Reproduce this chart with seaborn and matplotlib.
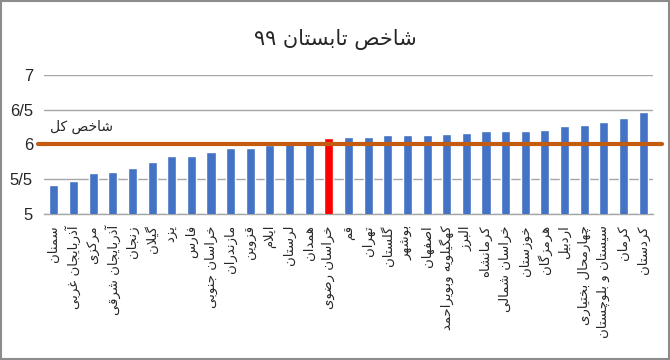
import matplotlib
matplotlib.use("Agg")
import matplotlib.pyplot as plt
import seaborn as sns
from matplotlib.patches import Rectangle

# ---------------- data ----------------
title = "شاخص تابستان ۹۹"
overall_label = "شاخص کل"
overall_value = 6.0
highlight = "خراسان رضوی"
provinces = [
    "سمنان", "آذربایجان غربی", "مرکزی", "آذربایجان شرقی", "زنجان", "گیلان",
    "یزد", "فارس", "خراسان جنوبی", "مازندران", "قزوین", "ایلام", "لرستان",
    "همدان", "خراسان رضوی", "قم", "تهران", "گلستان", "بوشهر", "اصفهان",
    "کهگیلویه وبویراحمد", "البرز", "کرمانشاه", "خراسان شمالی", "خوزستان",
    "هرمزگان", "اردبیل", "چهارمحال بختیاری", "سیستان و بلوچستان", "کرمان",
    "کردستان",
]
values = [
    5.42, 5.48, 5.59, 5.60, 5.66, 5.75, 5.83, 5.83, 5.89, 5.95, 5.95, 5.99,
    6.05, 6.05, 6.09, 6.11, 6.11, 6.14, 6.14, 6.14, 6.15, 6.17, 6.19, 6.19,
    6.19, 6.21, 6.27, 6.28, 6.32, 6.38, 6.47,
]
yticks = [5, 5.5, 6, 6.5, 7]
ytick_labels = ["5", "5/5", "6", "6/5", "7"]

# ------------- minimal Persian shaping -------------
FORMS = {
    "\u0627": ("\uFE8D", "\uFE8E", None, None),
    "\u0622": ("\uFE81", "\uFE82", None, None),
    "\u0628": ("\uFE8F", "\uFE90", "\uFE91", "\uFE92"),
    "\u067E": ("\uFB56", "\uFB57", "\uFB58", "\uFB59"),
    "\u062A": ("\uFE95", "\uFE96", "\uFE97", "\uFE98"),
    "\u062B": ("\uFE99", "\uFE9A", "\uFE9B", "\uFE9C"),
    "\u062C": ("\uFE9D", "\uFE9E", "\uFE9F", "\uFEA0"),
    "\u0686": ("\uFB7A", "\uFB7B", "\uFB7C", "\uFB7D"),
    "\u062D": ("\uFEA1", "\uFEA2", "\uFEA3", "\uFEA4"),
    "\u062E": ("\uFEA5", "\uFEA6", "\uFEA7", "\uFEA8"),
    "\u062F": ("\uFEA9", "\uFEAA", None, None),
    "\u0630": ("\uFEAB", "\uFEAC", None, None),
    "\u0631": ("\uFEAD", "\uFEAE", None, None),
    "\u0632": ("\uFEAF", "\uFEB0", None, None),
    "\u0698": ("\uFB8A", "\uFB8B", None, None),
    "\u0633": ("\uFEB1", "\uFEB2", "\uFEB3", "\uFEB4"),
    "\u0634": ("\uFEB5", "\uFEB6", "\uFEB7", "\uFEB8"),
    "\u0635": ("\uFEB9", "\uFEBA", "\uFEBB", "\uFEBC"),
    "\u0636": ("\uFEBD", "\uFEBE", "\uFEBF", "\uFEC0"),
    "\u0637": ("\uFEC1", "\uFEC2", "\uFEC3", "\uFEC4"),
    "\u0638": ("\uFEC5", "\uFEC6", "\uFEC7", "\uFEC8"),
    "\u0639": ("\uFEC9", "\uFECA", "\uFECB", "\uFECC"),
    "\u063A": ("\uFECD", "\uFECE", "\uFECF", "\uFED0"),
    "\u0641": ("\uFED1", "\uFED2", "\uFED3", "\uFED4"),
    "\u0642": ("\uFED5", "\uFED6", "\uFED7", "\uFED8"),
    "\u06A9": ("\uFB8E", "\uFB8F", "\uFB90", "\uFB91"),
    "\u06AF": ("\uFB92", "\uFB93", "\uFB94", "\uFB95"),
    "\u0644": ("\uFEDD", "\uFEDE", "\uFEDF", "\uFEE0"),
    "\u0645": ("\uFEE1", "\uFEE2", "\uFEE3", "\uFEE4"),
    "\u0646": ("\uFEE5", "\uFEE6", "\uFEE7", "\uFEE8"),
    "\u0647": ("\uFEE9", "\uFEEA", "\uFEEB", "\uFEEC"),
    "\u0648": ("\uFEED", "\uFEEE", None, None),
    "\u06CC": ("\uFBFC", "\uFBFD", "\uFBFE", "\uFBFF"),
}
LAM_ALEF = {"\u0627": ("\uFEFB", "\uFEFC"), "\u0622": ("\uFEF5", "\uFEF6")}


def shape(text):
    out = []
    chars = list(text)
    n = len(chars)
    i = 0
    while i < n:
        c = chars[i]
        if c not in FORMS:
            if c != "\u200c":
                out.append(c)
            i += 1
            continue
        prev = chars[i - 1] if i > 0 else None
        conn_prev = prev in FORMS and FORMS[prev][2] is not None
        if c == "\u0644" and i + 1 < n and chars[i + 1] in LAM_ALEF:
            iso, fin = LAM_ALEF[chars[i + 1]]
            out.append(fin if conn_prev else iso)
            i += 2
            continue
        nxt = chars[i + 1] if i + 1 < n else None
        conn_next = FORMS[c][2] is not None and nxt in FORMS
        iso, fin, ini, med = FORMS[c]
        if conn_prev and conn_next:
            out.append(med)
        elif conn_prev:
            out.append(fin)
        elif conn_next:
            out.append(ini)
        else:
            out.append(iso)
        i += 1
    vis = out[::-1]
    res, run = [], []
    for ch in vis:
        if ch.isdigit():
            run.append(ch)
        else:
            if run:
                res.extend(run[::-1]); run = []
            res.append(ch)
    if run:
        res.extend(run[::-1])
    return "".join(res)


# ---------------- plot ----------------
sns.set_theme(style="white")
plt.rcParams["font.family"] = ["DejaVu Sans"]

fig = plt.figure(figsize=(6.7, 3.6), dpi=100)
ax = fig.add_axes([0.0657, 0.4056, 0.9089, 0.3861])

colors = ["#FF0000" if p == highlight else "#4472C4" for p in provinces]
sns.barplot(x=provinces, y=values, hue=provinces, palette=colors,
            legend=False, width=0.46, ax=ax, saturation=1, zorder=3)

ax.set_ylim(5, 7)
ax.set_xlim(-0.5, len(provinces) - 0.5)
ax.set_yticks(yticks)
ax.set_yticklabels(ytick_labels, family=["Liberation Sans Narrow", "Liberation Sans"],
                   fontsize=12)
ax.yaxis.grid(True, color="#A6A6A6", linewidth=1.0, zorder=0)
ax.tick_params(axis="y", length=5, color="#A6A6A6", width=1, pad=3)
ax.set_axisbelow(True)

ax.set_xticks(range(len(provinces)))
ax.set_xticklabels([shape(p) for p in provinces], rotation=90,
                   ha="center", va="top", fontsize=9.5)
ax.tick_params(axis="x", which="major", length=0, pad=8)
ax.set_xticks([i - 0.5 for i in range(len(provinces) + 1)], minor=True)
ax.tick_params(axis="x", which="minor", length=5, color="#A6A6A6", width=1)
ax.set_xlabel("")
ax.set_ylabel("")

for s in ["top", "right", "left"]:
    ax.spines[s].set_visible(False)
ax.spines["bottom"].set_color("#A6A6A6")
ax.spines["bottom"].set_linewidth(1.0)

ax.axhline(overall_value, xmin=-0.01, xmax=1.015, color="#C55A11",
           linewidth=3.0, clip_on=False, zorder=4)
ax.text(0.062, overall_value + 0.25, shape(overall_label),
        transform=ax.get_yaxis_transform(), ha="center", va="center",
        fontsize=10)

fig.text(0.5, 0.89, shape(title), ha="center", va="center", fontsize=15)

fig.patches.append(Rectangle((0.0015, 0.003), 0.997, 0.994, transform=fig.transFigure,
                             fill=False, edgecolor="#8C8C8C", linewidth=1.5))

fig.savefig("out.png", dpi=100)
